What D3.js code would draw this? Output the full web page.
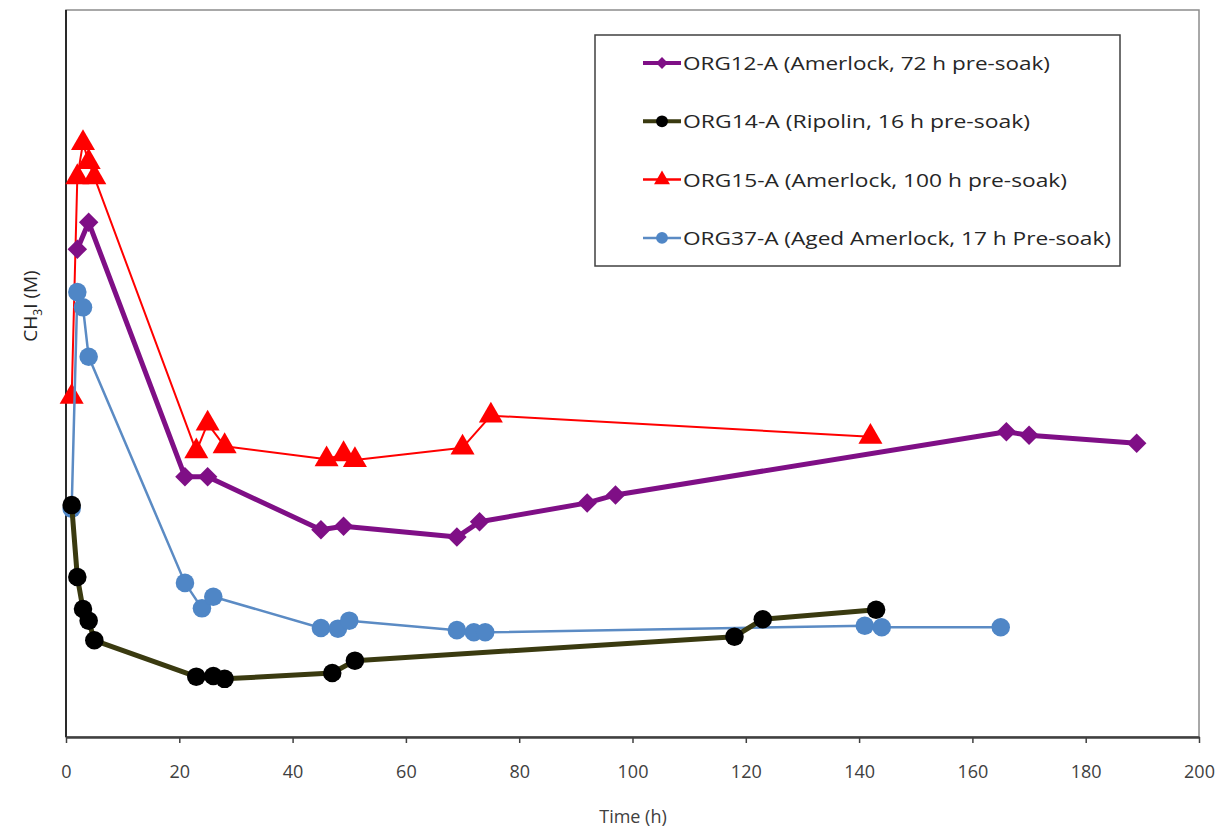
<!DOCTYPE html>
<html>
<head>
<meta charset="utf-8">
<script src="https://cdn.jsdelivr.net/npm/d3@7"></script>
<style>
  html, body { margin: 0; padding: 0; background: #fff; }
  svg { display: block; font-family: "Open Sans", "Liberation Sans", sans-serif; }
</style>
</head>
<body>
<svg id="chart" width="1227" height="831"></svg>
<script>
// CH3I concentration (relative units) against time for four painted samples
const xTicks = [0, 20, 40, 60, 80, 100, 120, 140, 160, 180, 200];

const org12Time = [2, 4, 21, 25, 45, 49, 69, 73, 92, 97, 166, 170, 189];
const org12Conc = [0.671, 0.708, 0.358, 0.358, 0.285, 0.290, 0.275, 0.296, 0.322, 0.333, 0.420, 0.415, 0.404];

const org14Time = [1, 2, 3, 4, 5, 23, 26, 28, 47, 51, 118, 123, 143];
const org14Conc = [0.319, 0.220, 0.176, 0.160, 0.133, 0.083, 0.084, 0.080, 0.088, 0.105, 0.138, 0.162, 0.175];

const org15Time = [1, 2, 3, 4, 5, 23, 25, 28, 46, 49, 51, 70, 75, 142];
const org15Conc = [0.468, 0.770, 0.817, 0.791, 0.770, 0.393, 0.431, 0.400, 0.382, 0.389, 0.381, 0.398, 0.442, 0.413];

const org37Time = [1, 2, 3, 4, 21, 24, 26, 45, 48, 50, 69, 72, 74, 141, 144, 165];
const org37Conc = [0.314, 0.612, 0.591, 0.523, 0.212, 0.177, 0.193, 0.150, 0.149, 0.160, 0.147, 0.144, 0.144, 0.153, 0.151, 0.151];

const seriesNames = [
  "ORG12-A (Amerlock,  72 h pre-soak)",
  "ORG14-A (Ripolin, 16 h pre-soak)",
  "ORG15-A (Amerlock,  100 h pre-soak)",
  "ORG37-A (Aged  Amerlock,  17 h Pre-soak)"
];

const zip = (t, c) => t.map((d, i) => ({ t: d, c: c[i] }));

// Draw order: red under purple, then blue, black on top near the start
const series = [
  { name: seriesNames[2], data: zip(org15Time, org15Conc), line: "#ff0000", width: 2, fill: "#ff0000", marker: "triangle", size: 250, legendRow: 2 },
  { name: seriesNames[0], data: zip(org12Time, org12Conc), line: "#7f0f86", width: 5, fill: "#7f0f86", marker: "diamond", size: 190, legendRow: 0 },
  { name: seriesNames[3], data: zip(org37Time, org37Conc), line: "#5b8bc4", width: 2.5, fill: "#4f86c6", marker: "circle", size: 270, legendRow: 3 },
  { name: seriesNames[1], data: zip(org14Time, org14Conc), line: "#3a3a10", width: 5, fill: "#000000", marker: "circle", size: 270, legendRow: 1 }
];

const symbolTypes = { triangle: d3.symbolTriangle, diamond: d3.symbolSquare, circle: d3.symbolCircle };
const symbolRotation = { triangle: 0, diamond: 45, circle: 0 };

const svg = d3.select("#chart");
const plot = { left: 66, right: 1199, top: 10, bottom: 737 };

const x = d3.scaleLinear().domain([0, 200]).range([plot.left, plot.right]);
const y = d3.scaleLinear().domain([0, 1]).range([plot.bottom, plot.top]);

// plot area frame
svg.append("rect")
  .attr("x", plot.left).attr("y", plot.top)
  .attr("width", plot.right - plot.left).attr("height", plot.bottom - plot.top)
  .attr("fill", "none").attr("stroke", "#8c8c8c").attr("stroke-width", 1.5);

// left axis line (no ticks or labels)
svg.append("line")
  .attr("x1", plot.left).attr("x2", plot.left)
  .attr("y1", plot.top).attr("y2", plot.bottom)
  .attr("stroke", "#000").attr("stroke-width", 1.5);

// bottom axis
const xAxis = svg.append("g")
  .attr("transform", `translate(0,${plot.bottom})`)
  .call(d3.axisBottom(x).tickValues(xTicks).tickSize(6).tickSizeOuter(0).tickPadding(22));
xAxis.select(".domain").attr("stroke", "#404040").attr("stroke-width", 2.5);
xAxis.selectAll(".tick line").attr("stroke", "#404040").attr("stroke-width", 1.5);
xAxis.selectAll(".tick text")
  .attr("fill", "#404040")
  .style("font-size", "18px")
  .style("font-family", "'Open Sans', sans-serif");

// axis titles
svg.append("text")
  .attr("x", 633).attr("y", 823)
  .attr("text-anchor", "middle")
  .attr("fill", "#404040")
  .style("font-size", "18px")
  .text("Time (h)");

const yTitle = svg.append("text")
  .attr("transform", "translate(37,306) rotate(-90)")
  .attr("text-anchor", "middle")
  .attr("fill", "#262626")
  .style("font-size", "19px");
yTitle.append("tspan").text("CH");
yTitle.append("tspan").attr("dy", 5).style("font-size", "12px").text("3");
yTitle.append("tspan").attr("dy", -5).text("I (M)");

// series lines and markers
const lineGen = d3.line().x(d => x(d.t)).y(d => y(d.c));

series.forEach(s => {
  const g = svg.append("g");
  g.append("path")
    .datum(s.data)
    .attr("d", lineGen)
    .attr("fill", "none")
    .attr("stroke", s.line)
    .attr("stroke-width", s.width)
    .attr("stroke-linejoin", "round");
  g.selectAll("path.pt")
    .data(s.data)
    .join("path")
    .attr("class", "pt")
    .attr("d", d3.symbol().type(symbolTypes[s.marker]).size(s.size))
    .attr("transform", d => `translate(${x(d.t)},${y(d.c)}) rotate(${symbolRotation[s.marker]})`)
    .attr("fill", s.fill);
});

// legend
const legend = svg.append("g");
legend.append("rect")
  .attr("x", 595).attr("y", 35).attr("width", 525).attr("height", 231)
  .attr("fill", "#fff").attr("stroke", "#404040").attr("stroke-width", 1.5);

const legendTextWidths = [367, 347, 384, 428];
const legendOrder = series.slice().sort((a, b) => a.legendRow - b.legendRow);
legendOrder.forEach((s, i) => {
  const cy = 63 + i * 58.3;
  const row = legend.append("g");
  row.append("line")
    .attr("x1", 643).attr("x2", 681).attr("y1", cy).attr("y2", cy)
    .attr("stroke", s.line).attr("stroke-width", s.width > 3 ? 4 : 2.5);
  row.append("path")
    .attr("d", d3.symbol().type(symbolTypes[s.marker]).size(s.marker === "diamond" ? 70 : 110))
    .attr("transform", `translate(662,${cy}) rotate(${symbolRotation[s.marker]})`)
    .attr("fill", s.fill);
  row.append("text")
    .attr("x", 683).attr("y", cy + 7)
    .attr("fill", "#262626")
    .style("font-size", "19px")
    .attr("textLength", legendTextWidths[i])
    .attr("lengthAdjust", "spacingAndGlyphs")
    .text(s.name);
});
</script>
</body>
</html>
